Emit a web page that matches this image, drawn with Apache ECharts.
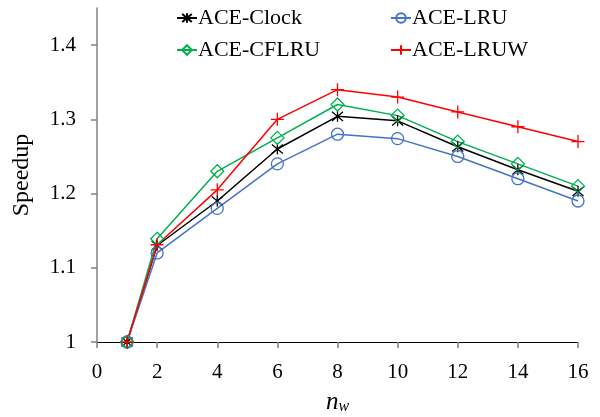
<!DOCTYPE html>
<html><head><meta charset="utf-8">
<script src="https://cdn.jsdelivr.net/npm/echarts@6/dist/echarts.min.js"></script>
<style>html,body{margin:0;padding:0;background:#fff}#c{width:600px;height:417px}</style>
</head><body><div id="c"></div>
<script>
const xValues = [1, 2, 4, 6, 8, 10, 12, 14, 16];
const clock = [1.0, 1.13, 1.19, 1.26, 1.304, 1.298, 1.263, 1.232, 1.203];
const lru   = [1.0, 1.12, 1.18, 1.24, 1.28, 1.274, 1.25, 1.22, 1.19];
const cflru = [1.0, 1.139, 1.23, 1.275, 1.32, 1.305, 1.27, 1.24, 1.21];
const lruw  = [1.0, 1.131, 1.205, 1.30, 1.34, 1.33, 1.31, 1.29, 1.27];
const yTicks = [1, 1.1, 1.2, 1.3, 1.4];
const names = ['ACE-Clock', 'ACE-LRU', 'ACE-CFLRU', 'ACE-LRUW'];

const FONT = 'Liberation Serif';
const pair = a => xValues.map((x, i) => [x, a[i]]);
const sym = {
  star: 'path://M0,0L10,10M10,0L0,10M5,-1L5,11',
  circle: 'path://M10,5A5,5,0,1,1,0,5A5,5,0,1,1,10,5Z',
  diamond: 'path://M5,0L10,5L5,10L0,5Z',
  plus: 'path://M0,5L10,5M5,0L5,10'
};
function mk(name, data, color, symbol, size) {
  return {
    name, type: 'line', data: pair(data), symbol, symbolSize: size,
    lineStyle: { color, width: 1.5 },
    itemStyle: { color: 'rgba(0,0,0,0)', borderColor: color, borderWidth: 1.3 },
    emphasis: { disabled: true }, z: 3
  };
}
const legendText = { fontFamily: FONT, fontSize: 22, color: '#000', padding: [0, 0, 0, -4] };
const chart = echarts.init(document.getElementById('c'));
chart.setOption({
  animation: false,
  textStyle: { fontFamily: FONT },
  grid: { left: 97, right: 22, top: 8, bottom: 75, containLabel: false, outerBoundsMode: 'none' },
  legend: [
    { data: [names[0], names[2]], orient: 'vertical', left: 171, top: 2, itemGap: 10,
      itemWidth: 20, itemHeight: 12, textStyle: legendText },
    { data: [names[1], names[3]], orient: 'vertical', left: 385, top: 2, itemGap: 10,
      itemWidth: 20, itemHeight: 12, textStyle: legendText }
  ],
  xAxis: {
    type: 'value', min: 0, max: 16, interval: 2,
    name: '{n|n}{w|w}', nameLocation: 'middle', nameGap: 47,
    nameTextStyle: { rich: {
      n: { fontFamily: FONT, fontStyle: 'italic', fontSize: 25, color: '#000', verticalAlign: 'bottom' },
      w: { fontFamily: FONT, fontStyle: 'italic', fontSize: 16, color: '#000', padding: [10, 0, 0, 0], verticalAlign: 'bottom' }
    } },
    axisLine: { lineStyle: { color: '#000', width: 1 } },
    axisTick: { length: 6, lineStyle: { color: '#808080', width: 1.5 } },
    axisLabel: { fontFamily: FONT, fontSize: 21, color: '#000', margin: 20 },
    splitLine: { show: false }
  },
  yAxis: {
    type: 'value', min: 1, max: 1.45,
    name: 'Speedup', nameLocation: 'middle', nameGap: 63,
    nameTextStyle: { fontFamily: FONT, fontSize: 24, color: '#000' },
    axisLine: { show: true, lineStyle: { color: '#808080', width: 1.5 } },
    axisTick: { show: true, length: 6, customValues: yTicks, lineStyle: { color: '#808080', width: 1.5 } },
    axisLabel: { fontFamily: FONT, fontSize: 21, color: '#000', margin: 21, customValues: yTicks },
    splitLine: { show: false }
  },
  series: [
    mk(names[0], clock, '#000000', sym.star, 11),
    mk(names[1], lru, '#4472C4', sym.circle, 12),
    mk(names[2], cflru, '#00B050', sym.diamond, 13),
    mk(names[3], lruw, '#FF0000', sym.plus, 13)
  ]
});
</script></body></html>
